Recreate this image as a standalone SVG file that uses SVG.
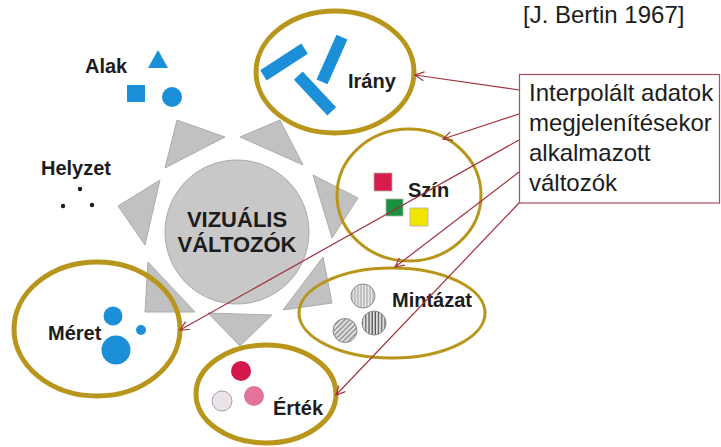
<svg xmlns="http://www.w3.org/2000/svg" width="721" height="447" viewBox="0 0 721 447">
<style>
.lbl{font-family:"Liberation Sans",Arial,sans-serif;font-weight:bold;font-size:20px;fill:#1c1c1c}
.ring{fill:none;stroke:#b8961b}
.thick{stroke-width:5}
.thin{stroke-width:3}
.tri{fill:#c1c1c1;stroke:#acacac;stroke-width:1}
.blue{fill:#1b8fd7}
.conn{stroke:#a1323c;stroke-width:1.2;fill:none;marker-end:url(#arr)}
.body{font-family:"Liberation Sans",Arial,sans-serif;font-size:24px;fill:#1c1c1c}
.pat{stroke:#8a8a8a;stroke-width:1}
</style>
<defs>
<marker id="arr" markerUnits="userSpaceOnUse" markerWidth="12" markerHeight="12" refX="10" refY="5" orient="auto">
<path d="M1,0.5 L10,5 L1,9.5" fill="none" stroke="#a1323c" stroke-width="1.2"/>
</marker>
<pattern id="pv1" patternUnits="userSpaceOnUse" width="3" height="6">
<rect width="3" height="6" fill="#e6e6e6"/><line x1="1" y1="0" x2="1" y2="6" stroke="#8c8c8c" stroke-width="0.8"/>
</pattern>
<pattern id="pv2" patternUnits="userSpaceOnUse" width="3.2" height="6">
<rect width="3.2" height="6" fill="#e0e0e0"/><line x1="1" y1="0" x2="1" y2="6" stroke="#505050" stroke-width="1.2"/>
</pattern>
<pattern id="pd" patternUnits="userSpaceOnUse" width="3.5" height="3.5" patternTransform="rotate(45)">
<rect width="3.5" height="3.5" fill="#e2e2e2"/><line x1="1" y1="0" x2="1" y2="3.5" stroke="#6e6e6e" stroke-width="1"/>
</pattern>
</defs>
<rect width="721" height="447" fill="#ffffff"/>

<g id="citation">
<text class="body" x="523" y="23">[J. Bertin 1967]</text>
</g>

<g id="center">
<polygon class="tri" points="177,120 225,137 165,168"/>
<polygon class="tri" points="240,137 280,120 303,165"/>
<polygon class="tri" points="313,175 358,198 332,238"/>
<polygon class="tri" points="323,257 332,303 283,310"/>
<polygon class="tri" points="208,313 272,315 240,346"/>
<polygon class="tri" points="148,262 195,312 145,312"/>
<polygon class="tri" points="160,180 118,206 145,245"/>
<circle cx="237" cy="232" r="72" fill="#c8c8c8" stroke="#a9a9a9" stroke-width="1"/>
<text class="lbl" x="237" y="227" text-anchor="middle" style="font-size:22px">VIZUÁLIS</text>
<text class="lbl" x="237" y="252" text-anchor="middle" style="font-size:22px">VÁLTOZÓK</text>
</g>

<g id="alak">
<text class="lbl" x="85" y="73">Alak</text>
<polygon class="blue" points="158,50 148,68 168,68"/>
<rect class="blue" x="127" y="85" width="18" height="17"/>
<circle class="blue" cx="172" cy="97" r="10"/>
</g>

<g id="helyzet">
<text class="lbl" x="41" y="175">Helyzet</text>
<circle cx="80" cy="189" r="2.2" fill="#1c1c1c"/>
<circle cx="63" cy="206" r="2.2" fill="#1c1c1c"/>
<circle cx="92" cy="205" r="2.2" fill="#1c1c1c"/>
</g>

<g id="irany">
<ellipse class="ring thick" cx="335" cy="72" rx="79" ry="61"/>
<rect class="blue" x="-24.5" y="-6" width="49" height="12" transform="translate(284,62) rotate(-33)"/>
<rect class="blue" x="-24.5" y="-6" width="49" height="12" transform="translate(332,59.5) rotate(114)"/>
<rect class="blue" x="-24.5" y="-6" width="49" height="12" transform="translate(315,93.5) rotate(47)"/>
<text class="lbl" x="348" y="88">Irány</text>
</g>

<g id="szin">
<ellipse class="ring thin" cx="409" cy="195" rx="72" ry="66"/>
<rect x="374" y="173" width="18" height="18" fill="#d81c4c" stroke="#b0b0b0" stroke-width="0.8"/>
<rect x="386" y="199" width="17" height="17" fill="#17923e" stroke="#b0b0b0" stroke-width="0.8"/>
<rect x="410" y="208" width="18" height="18" fill="#f2e600" stroke="#b0b0b0" stroke-width="0.8"/>
<text class="lbl" x="408" y="197">Szín</text>
</g>

<g id="mintazat">
<ellipse class="ring thin" cx="392" cy="313" rx="93" ry="45"/>
<circle class="pat" cx="363" cy="296" r="12" fill="url(#pv1)"/>
<circle class="pat" cx="374" cy="323" r="12" fill="url(#pv2)"/>
<circle class="pat" cx="345" cy="330.5" r="12" fill="url(#pd)"/>
<text class="lbl" x="392" y="307">Mintázat</text>
</g>

<g id="meret">
<ellipse class="ring thick" cx="97" cy="329" rx="83" ry="67"/>
<circle class="blue" cx="113" cy="316" r="9.5"/>
<circle class="blue" cx="141" cy="330" r="5"/>
<circle class="blue" cx="116" cy="350" r="14.5"/>
<text class="lbl" x="48" y="340">Méret</text>
</g>

<g id="ertek">
<ellipse class="ring thick" cx="266" cy="394" rx="70" ry="49"/>
<circle cx="241" cy="371" r="10" fill="#d2174b"/>
<circle cx="254" cy="396" r="10" fill="#e2739c"/>
<circle cx="222" cy="401" r="10" fill="#ebe3ea" stroke="#a8a0a8" stroke-width="1"/>
<text class="lbl" x="273" y="415">Érték</text>
</g>

<g id="note">
<rect x="519.5" y="74.5" width="200" height="128.5" fill="#ffffff" stroke="#a8505a" stroke-width="1.2"/>
<text class="body" x="529" y="101">Interpolált adatok</text>
<text class="body" x="529" y="131">megjelenítésekor</text>
<text class="body" x="529" y="161">alkalmazott</text>
<text class="body" x="529" y="191">változók</text>
</g>

<g id="connectors">
<line class="conn" x1="519" y1="90" x2="415" y2="75"/>
<line class="conn" x1="519" y1="114" x2="443" y2="139"/>
<line class="conn" x1="519" y1="140" x2="180" y2="330"/>
<line class="conn" x1="519" y1="172" x2="395" y2="267"/>
<line class="conn" x1="519" y1="203" x2="336" y2="395"/>
</g>
</svg>
